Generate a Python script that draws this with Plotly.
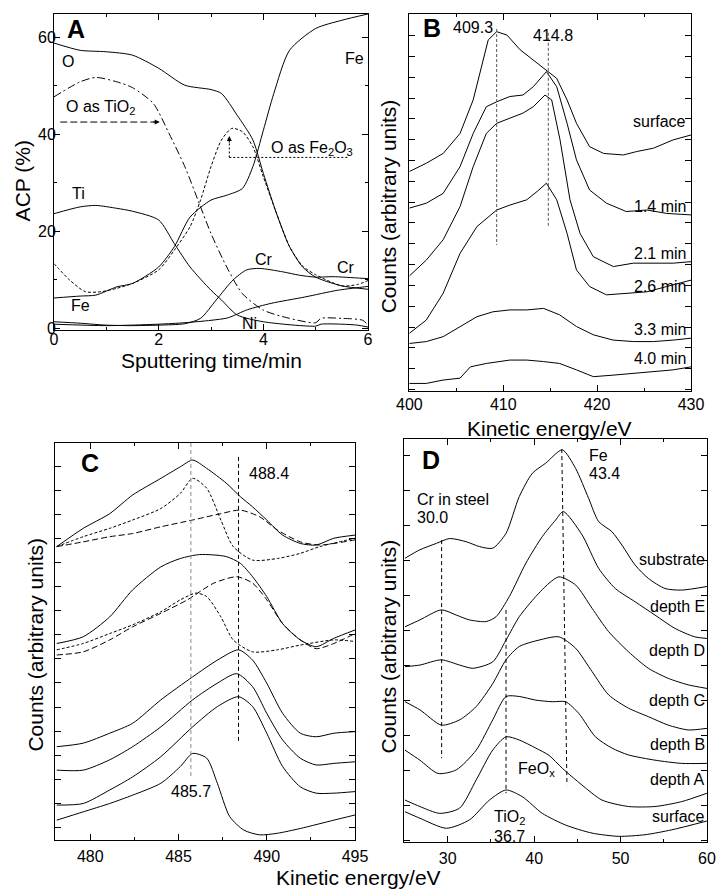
import plotly.graph_objects as go

FONT = "Liberation Sans, Arial, Helvetica, sans-serif"

# ---------------- panel A : depth profile (time in min, ACP in %)
t_O = [0, 0.5, 1, 1.5, 2, 2.5, 3, 3.2, 3.5, 3.8, 4, 4.25, 4.5, 4.75, 5, 5.5, 6]
acp_O = [58.8, 57.3, 57.0, 56.3, 53.6, 50.1, 49.2, 48.4, 43.9, 38.8, 31.9, 23.7, 16.8, 12.6, 10.5, 8.7, 8.0]

t_O_TiO2 = [0, 0.5, 0.8, 1.2, 1.5, 1.9, 2.2, 2.5, 2.8, 3.0, 3.3, 3.6, 4, 4.5, 5, 5.1, 5.5, 5.9, 6]
acp_O_TiO2 = [47.7, 50.8, 51.7, 50.8, 49.6, 46.3, 40.1, 33.3, 25.0, 19.5, 12.6, 7.1, 3.7, 2.0, 1.1, 2.0, 2.0, 1.6, 0.6]

t_Ti = [0, 0.5, 0.8, 1.2, 1.5, 2, 2.3, 2.6, 3, 3.2, 3.5, 4, 5, 5.1, 5.5, 5.8, 6]
acp_Ti = [23.6, 25.0, 25.3, 24.7, 24.1, 22.3, 17.4, 12.6, 7.8, 5.8, 2.7, 1.3, 0.4, 0.8, 0.8, 0.6, 0.2]

t_Fe = [0, 0.5, 0.8, 1.2, 1.5, 2, 2.3, 2.6, 3, 3.3, 3.6, 3.8, 4, 4.2, 4.5, 5, 5.5, 6]
acp_Fe = [6.2, 6.6, 6.8, 8.5, 9.2, 12.6, 16.8, 22.9, 26.4, 27.4, 28.8, 33.3, 40.8, 48.4, 57.3, 61.8, 63.5, 64.8]

t_O_Fe2O3 = [0, 0.3, 0.6, 0.9, 1.2, 1.5, 2, 2.3, 2.6, 2.8, 3.0, 3.2, 3.4, 3.6, 3.8, 4, 4.25, 4.5, 4.75, 5, 5.5, 5.8, 6]
acp_O_Fe2O3 = [13.3, 9.9, 7.5, 7.5, 8.2, 9.2, 12.0, 16.1, 20.9, 26.4, 33.3, 38.8, 41.2, 40.5, 37.4, 31.2, 23.7, 16.8, 12.8, 11.0, 8.7, 9.0, 9.8]

t_Cr = [0, 0.5, 1, 1.5, 2, 2.5, 2.8, 3.1, 3.42, 3.68, 3.93, 4.37, 4.69, 5.0, 5.33, 5.84, 6]
acp_Cr = [1.3, 1.0, 0.6, 0.5, 0.6, 0.9, 2.0, 5.8, 9.9, 12.0, 12.3, 11.6, 10.9, 10.5, 10.6, 10.3, 10.2]

t_Ni = [0, 1, 2, 2.5, 3, 3.32, 3.7, 4.15, 4.79, 5.42, 5.93, 6]
acp_Ni = [0.8, 0.5, 0.8, 1.1, 1.6, 2.1, 3.8, 5.1, 6.4, 7.8, 8.5, 8.6]

# ---------------- panel B : Ti LMM spectra vs sputtering time
eB_surface = [400, 401.8, 403.6, 405.4, 406.8, 407.9, 408.4, 409.3, 410.4, 411.8, 413.2, 414.6, 415.7, 416.8, 417.8, 419.2, 420.7, 422.8, 424.2, 426.0, 428.1, 430]
cB_surface = [58.2, 60.4, 63.0, 68.3, 77.2, 87.8, 93.1, 95.3, 94.4, 90.5, 87.8, 85.0, 82.9, 77.2, 71.0, 64.8, 63.0, 62.6, 63.5, 64.4, 66.6, 67.9]
eB_14 = [400, 401.8, 403.6, 405.4, 406.8, 408.2, 409.3, 410.7, 412.1, 413.2, 414.6, 415.7, 416.8, 417.8, 419.2, 421.0, 423.1, 425.3, 427.4, 430]
cB_14 = [48.5, 49.8, 52.4, 59.5, 68.3, 75.4, 76.7, 78.1, 78.5, 80.7, 84.7, 80.7, 71.0, 61.3, 53.3, 49.8, 47.6, 48.0, 47.1, 46.7]
eB_21 = [400, 401.8, 403.6, 405.4, 406.8, 408.2, 409.3, 410.7, 412.1, 413.2, 414.45, 415.16, 416.05, 417.11, 418.18, 419.6, 421.73, 423.86, 425.99, 428.11, 430]
cB_21 = [30.5, 34.7, 40.1, 48.9, 59.5, 68.3, 71.0, 72.3, 73.7, 75.4, 78.5, 77.2, 66.6, 50.7, 41.8, 35.6, 33.0, 33.9, 33.9, 33.9, 34.3]
eB_26 = [400, 401.8, 403.6, 405.4, 407.2, 409.3, 410.7, 412.5, 413.6, 414.6, 415.7, 416.8, 417.8, 419.2, 421.0, 423.1, 425.3, 427.4, 430]
cB_26 = [15.3, 18.8, 25.9, 36.5, 43.6, 48.0, 49.3, 50.7, 52.9, 55.1, 50.7, 41.8, 32.1, 27.7, 25.5, 25.9, 26.3, 27.7, 29.4]
eB_33 = [400, 401.8, 403.6, 405.4, 407.2, 408.9, 410.7, 412.5, 414.3, 416.0, 417.8, 419.6, 421.7, 423.9, 426.0, 428.1, 430]
cB_33 = [12.6, 13.1, 14.4, 17.1, 19.7, 21.0, 21.5, 21.5, 21.9, 20.2, 17.1, 14.9, 13.5, 13.1, 13.1, 13.5, 14.0]
eB_40 = [400, 401.8, 403.6, 405.4, 406.5, 408.2, 410.7, 412.5, 414.3, 416.0, 417.8, 419.6, 421.7, 423.9, 426.0, 428.1, 430]
cB_40 = [2.0, 2.0, 2.9, 3.4, 6.4, 7.3, 8.2, 8.2, 7.8, 7.3, 5.6, 3.8, 4.2, 4.7, 5.1, 5.6, 6.4]

# ---------------- panel C : Cr LMM spectra
eC_E = [478.1, 479.6, 481.1, 482.4, 484.0, 485.1, 485.8, 486.6, 487.7, 488.5, 489.2, 490.0, 490.9, 491.9, 492.8, 493.8, 495.0]
cC_E = [73.9, 78.5, 82.2, 86.9, 91.1, 94.0, 95.7, 93.6, 89.9, 86.5, 83.9, 80.6, 76.8, 74.7, 74.3, 76.0, 76.8]
eC_E_met = [478.1, 479.6, 481.1, 482.4, 484.0, 485.1, 485.8, 486.6, 487.4, 488.1, 489.2, 490.6, 491.9, 493.0, 495.0]
cC_E_met = [73.9, 76.4, 78.5, 80.6, 83.5, 87.3, 91.1, 88.6, 80.6, 73.9, 70.5, 70.9, 72.2, 73.9, 76.0]
eC_E_ox = [478.1, 479.6, 481.1, 482.4, 484.0, 485.8, 487.4, 488.5, 489.6, 490.6, 491.9, 493.0, 495.0]
cC_E_ox = [73.9, 75.1, 76.4, 77.2, 78.9, 80.6, 82.2, 83.1, 81.4, 78.1, 75.1, 74.3, 75.6]
eC_D = [478.1, 479.6, 481.1, 482.4, 484.0, 485.1, 486.2, 487.7, 488.5, 489.2, 490.0, 490.9, 491.9, 492.8, 493.8, 495.0]
cC_D = [49.5, 51.2, 56.2, 63.0, 68.8, 70.9, 71.9, 71.4, 69.7, 66.3, 61.3, 54.5, 50.4, 48.7, 50.8, 52.9]
eC_D_met = [478.1, 479.6, 481.1, 482.4, 484.0, 485.1, 486.0, 486.6, 487.4, 488.1, 489.2, 490.6, 491.9, 493.8, 495.0]
cC_D_met = [47.9, 49.5, 52.0, 54.2, 57.5, 60.5, 62.2, 61.3, 56.2, 50.4, 47.4, 47.9, 49.1, 50.4, 50.0]
eC_D_ox = [478.1, 479.6, 481.1, 482.4, 484.0, 485.5, 487.0, 488.3, 489.2, 490.0, 490.9, 491.9, 492.8, 493.8, 495.0]
cC_D_ox = [46.6, 47.4, 50.4, 53.7, 57.1, 60.5, 64.7, 66.3, 64.7, 60.5, 54.5, 50.4, 48.2, 49.5, 52.0]
eC_C = [478.1, 479.6, 481.1, 482.4, 484.0, 485.8, 487.2, 488.4, 489.2, 490.0, 490.9, 491.9, 492.8, 493.8, 495.0]
cC_C = [23.5, 24.4, 26.9, 29.4, 35.3, 41.1, 45.3, 47.9, 45.3, 39.5, 31.9, 26.9, 26.0, 26.9, 27.3]
eC_B = [478.1, 479.6, 481.1, 482.4, 484.0, 485.8, 487.2, 488.3, 489.2, 490.0, 490.9, 491.9, 492.8, 493.8, 495.0]
cC_B = [17.6, 17.6, 20.2, 23.5, 28.5, 35.3, 39.5, 41.9, 38.6, 31.9, 25.2, 20.6, 18.9, 19.3, 19.7]
eC_A = [478.1, 479.6, 481.1, 482.4, 484.0, 485.8, 487.2, 488.4, 489.2, 490.0, 490.9, 491.9, 492.8, 493.8, 495.0]
cC_A = [8.8, 9.2, 12.6, 15.9, 21.0, 28.5, 33.6, 36.1, 33.6, 26.9, 18.5, 13.4, 11.8, 11.8, 12.2]
eC_pure = [478.1, 479.6, 481.1, 482.4, 484.0, 485.1, 485.8, 486.6, 487.2, 487.9, 488.7, 489.6, 490.6, 491.9, 493.8, 495.0]
cC_pure = [5.0, 7.1, 9.2, 11.3, 14.3, 18.5, 21.8, 20.6, 14.3, 5.9, 2.5, 1.3, 1.7, 2.9, 5.0, 6.3]

# ---------------- panel D : low-energy spectra
eD_sub = [25.06, 26.78, 28.70, 30.23, 32.15, 33.68, 35.21, 36.75, 38.28, 39.80, 41.34, 43.26, 44.8, 46.32, 47.47, 49.0, 50.15, 51.69, 53.22, 55.14, 57.05, 60]
cD_sub = [70.4, 72.5, 74.1, 75.3, 74.5, 73.3, 72.9, 76.6, 85.7, 91.5, 94.0, 97.3, 92.7, 85.2, 79.5, 77.0, 73.7, 68.7, 65.4, 62.9, 62.5, 63.4]
eD_E = [25.06, 26.78, 29.27, 31.0, 32.53, 34.45, 35.6, 37.13, 39.05, 40.95, 42.49, 43.37, 45.55, 47.47, 49.39, 51.69, 53.99, 56.29, 58.59, 60]
cD_E = [53.4, 55.1, 57.6, 56.3, 55.1, 54.7, 55.9, 60.9, 69.2, 75.8, 79.9, 82.0, 76.2, 67.9, 62.9, 59.6, 56.3, 53.0, 50.9, 50.5]
eD_D = [25.06, 26.78, 29.27, 31.38, 32.91, 35.21, 36.75, 38.28, 40.19, 41.72, 42.87, 44.79, 46.70, 48.62, 50.92, 53.22, 55.52, 57.82, 60]
cD_D = [43.5, 43.9, 45.2, 43.9, 43.1, 44.7, 50.1, 55.9, 60.9, 64.2, 65.8, 63.8, 58.0, 52.2, 47.2, 43.1, 40.6, 39.0, 38.1]
eD_C = [25.06, 26.78, 29.27, 31.38, 33.30, 35.21, 36.75, 38.28, 40.57, 42.87, 44.79, 46.70, 48.62, 50.92, 53.22, 55.52, 57.82, 60]
cD_C = [34.8, 32.8, 29.0, 30.3, 33.6, 39.3, 45.2, 48.5, 50.1, 50.9, 48.1, 42.3, 36.5, 33.2, 31.1, 29.0, 27.8, 28.2]
eD_B = [25.06, 26.78, 28.89, 31.0, 33.3, 35.21, 36.75, 38.28, 40.19, 42.1, 43.64, 45.17, 47.09, 49.0, 50.92, 53.99, 57.05, 60]
cD_B = [22.8, 20.3, 17.0, 17.9, 22.8, 30.3, 36.1, 36.1, 35.2, 34.8, 34.8, 31.9, 26.1, 23.3, 21.6, 20.3, 19.5, 19.5]
eD_A = [25.06, 26.78, 29.08, 31.38, 33.3, 35.21, 36.75, 38.28, 40.19, 41.72, 43.26, 45.55, 47.85, 50.92, 53.99, 57.05, 60]
cD_A = [10.4, 8.8, 7.1, 8.4, 15.4, 22.8, 26.1, 25.3, 23.3, 21.5, 18.3, 14.1, 10.4, 8.8, 8.8, 10.0, 12.1]
eD_surf = [25.06, 26.78, 29.85, 32.53, 34.83, 36.75, 38.66, 40.95, 43.64, 46.7, 49.77, 52.84, 55.9, 60]
cD_surf = [7.5, 5.9, 3.4, 5.5, 10.4, 12.9, 11.2, 7.1, 4.2, 2.2, 1.4, 1.8, 3.0, 5.2]

fig = go.Figure()


def add_line(x, y, xa, ya, dash="solid", shape="spline"):
    fig.add_trace(go.Scatter(
        x=x, y=y, xaxis=xa, yaxis=ya, mode="lines",
        line=dict(color="black", width=1, dash=dash, shape=shape, smoothing=0.7),
        hoverinfo="skip", showlegend=False))


# panel A
add_line(t_O, acp_O, "x", "y")
add_line(t_O_TiO2, acp_O_TiO2, "x", "y", dash="8px,3px,2px,3px")
add_line(t_Ti, acp_Ti, "x", "y")
add_line(t_Fe, acp_Fe, "x", "y")
add_line(t_O_Fe2O3, acp_O_Fe2O3, "x", "y", dash="3px,2px")
add_line(t_Cr, acp_Cr, "x", "y")
add_line(t_Ni, acp_Ni, "x", "y")

# panel B
for e, c in [(eB_surface, cB_surface), (eB_14, cB_14), (eB_21, cB_21),
             (eB_26, cB_26), (eB_33, cB_33), (eB_40, cB_40)]:
    add_line(e, c, "x2", "y2", shape="linear")

# panel C
add_line(eC_E, cC_E, "x3", "y3")
add_line(eC_E_met, cC_E_met, "x3", "y3", dash="3px,2px")
add_line(eC_E_ox, cC_E_ox, "x3", "y3", dash="6px,3px")
add_line(eC_D, cC_D, "x3", "y3")
add_line(eC_D_met, cC_D_met, "x3", "y3", dash="3px,2px")
add_line(eC_D_ox, cC_D_ox, "x3", "y3", dash="6px,3px")
for e, c in [(eC_C, cC_C), (eC_B, cC_B), (eC_A, cC_A), (eC_pure, cC_pure)]:
    add_line(e, c, "x3", "y3")

# panel D
for e, c in [(eD_sub, cD_sub), (eD_E, cD_E), (eD_D, cD_D), (eD_C, cD_C),
             (eD_B, cD_B), (eD_A, cD_A), (eD_surf, cD_surf)]:
    add_line(e, c, "x4", "y4")


def axis(domain, rng, anchor, dtick, tick0=0, minor_dtick=None, labels=True, standoff=0):
    ax = dict(domain=domain, range=rng, anchor=anchor, showline=True,
              linecolor="black", linewidth=1, mirror="allticks", ticks="inside",
              ticklen=6, tickwidth=1, tickcolor="black", showgrid=False,
              zeroline=False, dtick=dtick, tick0=tick0, showticklabels=labels,
              ticklabelstandoff=standoff, automargin=False,
              tickfont=dict(family=FONT, size=16, color="black"))
    if minor_dtick:
        ax["minor"] = dict(ticks="inside", ticklen=3, dtick=minor_dtick,
                           tickcolor="black", showgrid=False)
    return ax


txt = dict(family=FONT, size=16, color="black")
big = dict(family=FONT, size=21, color="black")
letter = dict(family=FONT, size=25, color="black")


def label(x, y, text, ref, anchor="left", font=txt):
    return dict(x=x, y=y, xref="x" + ref, yref="y" + ref, text=text,
                showarrow=False, xanchor=anchor, yanchor="middle", font=font)


annotations = [
    # panel A
    label(0.43, 61.6, "<b>A</b>", "", "center", letter),
    label(0.12, 54.9, "O", ""),
    label(0.2, 45.4, "O as TiO<sub>2</sub>", ""),
    label(0.3, 27.8, "Ti", ""),
    label(0.28, 4.7, "Fe", ""),
    label(3.8, 14.2, "Cr", ""),
    label(5.36, 12.4, "Cr", ""),
    label(3.55, 0.9, "Ni", ""),
    label(5.53, 55.6, "Fe", ""),
    label(4.1, 37.1, "O as Fe<sub>2</sub>O<sub>3</sub>", ""),
    dict(x=2.02, y=42.5, xref="x", yref="y", ax=-8, ay=0, text="", showarrow=True,
         arrowhead=2, arrowsize=1, arrowwidth=1, arrowcolor="black"),
    dict(x=3.35, y=39.6, xref="x", yref="y", ax=0, ay=8, text="", showarrow=True,
         arrowhead=2, arrowsize=1, arrowwidth=1, arrowcolor="black"),
    # panel B
    label(402.4, 96.4, "<b>B</b>", "2", "center", letter),
    label(406.8, 96.4, "409.3", "2", "center"),
    label(415.3, 94.2, "414.8", "2", "center"),
    label(429.7, 71.4, "surface", "2", "right"),
    label(429.7, 48.9, "1.4 min", "2", "right"),
    label(429.7, 36.5, "2.1 min", "2", "right"),
    label(429.7, 27.7, "2.6 min", "2", "right"),
    label(429.7, 16.2, "3.3 min", "2", "right"),
    label(429.7, 8.7, "4.0 min", "2", "right"),
    # panel C
    label(480.0, 94.9, "<b>C</b>", "3", "center", letter),
    label(488.9, 92.3, "488.4", "3", "left"),
    label(485.7, 12.2, "485.7", "3", "center"),
    label(495.2, 80.2, "depth E", "3", "right"),
    label(495.2, 56.2, "depth D", "3", "right"),
    label(495.2, 32.7, "depth C", "3", "right"),
    label(495.2, 22.7, "depth B", "3", "right"),
    label(495.2, 16.4, "depth A", "3", "right"),
    label(495.2, 8.8, "pure Cr", "3", "right"),
    # panel D
    label(28.1, 94.8, "<b>D</b>", "4", "center", letter),
    label(46.1, 96.0, "Fe", "4"),
    label(46.1, 91.5, "43.4", "4"),
    label(26.2, 84.9, "Cr in steel", "4"),
    label(26.2, 80.5, "30.0", "4"),
    label(37.9, 17.9, "FeO<sub>x</sub>", "4"),
    label(37.2, 6.0, "TiO<sub>2</sub>", "4", "center"),
    label(37.2, 1.4, "36.7", "4", "center"),
    label(60, 70.0, "substrate", "4", "right"),
    label(60, 58.4, "depth E", "4", "right"),
    label(60, 47.6, "depth D", "4", "right"),
    label(60, 35.2, "depth C", "4", "right"),
    label(60, 24.1, "depth B", "4", "right"),
    label(60, 15.4, "depth A", "4", "right"),
    label(60, 6.3, "surface", "4", "right"),
]

# axis titles (paper coordinates)
for x, y, text, angle in [(0.032, 0.797, "ACP (%)", -90),
                          (0.296, 0.595, "Sputtering time/min", 0),
                          (0.542, 0.768, "Counts (arbitrary units)", -90),
                          (0.768, 0.5185, "Kinetic energy/eV", 0),
                          (0.049, 0.275, "Counts (arbitrary units)", -90),
                          (0.542, 0.273, "Counts (arbitrary units)", -90),
                          (0.5, 0.0125, "Kinetic energy/eV", 0)]:
    annotations.append(dict(x=x, y=y, xref="paper", yref="paper", text=text,
                            showarrow=False, textangle=angle, font=big,
                            xanchor="center", yanchor="middle"))

shapes = []


def seg(x0, y0, x1, y1, ref, dash, color="black"):
    shapes.append(dict(type="line", x0=x0, y0=y0, x1=x1, y1=y1,
                       xref="x" + ref, yref="y" + ref,
                       line=dict(color=color, width=1, dash=dash)))


seg(0.12, 42.5, 1.95, 42.5, "", "7px,3px")
seg(3.35, 35.2, 3.35, 38.9, "", "2px,2px")
seg(3.35, 35.2, 5.62, 35.2, "", "2px,2px")
seg(409.3, 96.0, 409.3, 38.7, "2", "3px,2px", "#555")
seg(414.8, 95.0, 414.8, 43.6, "2", "3px,2px", "#555")
seg(485.7, 100, 485.7, 15.9, "3", "4px,3px", "#888")
seg(488.4, 96.5, 488.4, 24.8, "3", "4px,3px")
seg(29.3, 74.9, 29.3, 20.8, "4", "4px,3px")
seg(36.75, 57.6, 36.75, 12.1, "4", "4px,3px")
seg(43.2, 97.5, 43.8, 14.1, "4", "4px,3px")

fig.update_layout(
    width=716, height=889,
    margin=dict(l=0, r=0, t=0, b=0),
    paper_bgcolor="white", plot_bgcolor="white",
    font=dict(family=FONT, color="black"),
    showlegend=False,
    xaxis=axis([0.0754, 0.514], [0, 6], "y", 2, 0, 1, standoff=-5),
    yaxis=axis([0.6288, 0.9843], [-0.4, 64.8], "x", 20, 0, 10, standoff=-6),
    xaxis2=axis([0.5717, 0.9651], [400, 430], "y2", 10, 400, 5, standoff=-1),
    yaxis2=axis([0.5602, 0.9843], [0, 100], "x2", 5.52, 0.4, labels=False),
    xaxis3=axis([0.0768, 0.4958], [478, 495], "y3", 5, 480, 2.5, standoff=2),
    yaxis3=axis([0.0551, 0.5017], [0, 100], "x3", 6.05, 3.25, labels=False),
    xaxis4=axis([0.5649, 0.9874], [25, 60], "y4", 10, 30, 5, standoff=2),
    yaxis4=axis([0.0529, 0.5062], [0, 100], "x4", 8.68, 9.0, labels=False),
    annotations=annotations,
    shapes=shapes,
)

# drop the default page margin so the figure sits at the window's corner
fig.write_html("out.html", config={"displayModeBar": False},
               post_script="document.body.style.margin='0';"
                           "document.body.style.overflow='hidden';")
